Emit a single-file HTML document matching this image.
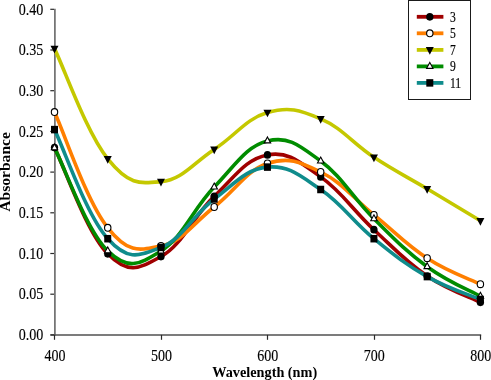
<!DOCTYPE html>
<html><head><meta charset="utf-8"><style>
html,body{margin:0;padding:0;background:#fff;}
body{width:491px;height:380px;overflow:hidden;}
svg{display:block;will-change:transform;filter:blur(0.3px);}
text{font-family:"Liberation Serif",serif;fill:#000;}
</style></head><body>
<svg width="491" height="380" viewBox="0 0 491 380">
<rect width="491" height="380" fill="#fff"/>

<g fill="none">
<path d="M54.9,8.8 V335.6" stroke="#666" stroke-width="1.6"/>
<path d="M50.5,334.9 H481.2" stroke="#505050" stroke-width="1.5"/>
</g>
<g stroke="#2a2a2a" stroke-width="1.2" fill="none">
<path d="M50.3,334.90 H54"/>
<path d="M50.3,294.20 H54"/>
<path d="M50.3,253.50 H54"/>
<path d="M50.3,212.80 H54"/>
<path d="M50.3,172.10 H54"/>
<path d="M50.3,131.40 H54"/>
<path d="M50.3,90.70 H54"/>
<path d="M50.3,50.00 H54"/>
<path d="M50.3,9.30 H54"/>
<path d="M54.50,334.9 V339.8"/>
<path d="M161.50,334.9 V339.8"/>
<path d="M267.50,334.9 V339.8"/>
<path d="M374.50,334.9 V339.8"/>
<path d="M480.50,334.9 V339.8"/>
</g>
<g font-size="14.60" text-anchor="end" stroke="#000" stroke-width="0.12">
<text transform="translate(43.4,340.10) scale(0.965,1.100)">0.00</text>
<text transform="translate(43.4,299.40) scale(0.965,1.100)">0.05</text>
<text transform="translate(43.4,258.70) scale(0.965,1.100)">0.10</text>
<text transform="translate(43.4,218.00) scale(0.965,1.100)">0.15</text>
<text transform="translate(43.4,177.30) scale(0.965,1.100)">0.20</text>
<text transform="translate(43.4,136.60) scale(0.965,1.100)">0.25</text>
<text transform="translate(43.4,95.90) scale(0.965,1.100)">0.30</text>
<text transform="translate(43.4,55.20) scale(0.965,1.100)">0.35</text>
<text transform="translate(43.4,14.50) scale(0.965,1.100)">0.40</text>
</g>
<g font-size="14.60" text-anchor="middle" stroke="#000" stroke-width="0.12">
<text transform="translate(54.90,361.3) scale(0.96,1.100)">400</text>
<text transform="translate(161.38,361.3) scale(0.96,1.100)">500</text>
<text transform="translate(267.85,361.3) scale(0.96,1.100)">600</text>
<text transform="translate(374.32,361.3) scale(0.96,1.100)">700</text>
<text transform="translate(480.80,361.3) scale(0.96,1.100)">800</text>
</g>
<text transform="translate(264.7,377) scale(0.984,1.07)" font-size="14.5" font-weight="bold" text-anchor="middle">Wavelength (nm)</text>
<text transform="translate(9.7,171.9) scale(1,1.074) rotate(-90)" font-size="14.5" font-weight="bold" text-anchor="middle">Absorbance</text>
<path d="M54.50,147.60 C65.15,168.84 86.44,232.00 107.74,253.80 C129.03,275.60 139.68,268.08 160.97,256.60 C182.27,245.12 192.92,216.74 214.21,196.40 C235.51,176.06 246.15,158.80 267.45,154.90 C288.75,151.00 299.39,161.94 320.69,176.90 C341.98,191.86 352.63,209.86 373.93,229.70 C395.22,249.54 405.87,261.58 427.16,276.10 C448.46,290.62 469.75,297.06 480.40,302.30" fill="none" stroke="#a00000" stroke-width="3.60" stroke-linecap="round" stroke-linejoin="round"/>
<path d="M54.50,112.10 C65.15,135.24 86.44,201.02 107.74,227.80 C129.03,254.58 139.68,250.16 160.97,246.00 C182.27,241.84 192.92,223.50 214.21,207.00 C235.51,190.50 246.15,170.50 267.45,163.50 C288.75,156.50 299.39,161.72 320.69,172.00 C341.98,182.28 352.63,197.66 373.93,214.90 C395.22,232.14 405.87,244.34 427.16,258.20 C448.46,272.06 469.75,279.00 480.40,284.20" fill="none" stroke="#ff7f00" stroke-width="3.60" stroke-linecap="round" stroke-linejoin="round"/>
<path d="M54.50,48.65 C65.15,70.69 86.44,132.24 107.74,158.85 C129.03,185.46 139.68,183.59 160.97,181.70 C182.27,179.81 192.92,163.24 214.21,149.40 C235.51,135.56 246.15,118.61 267.45,112.50 C288.75,106.39 299.39,109.89 320.69,118.85 C341.98,127.81 352.63,143.30 373.93,157.30 C395.22,171.30 405.87,176.15 427.16,188.85 C448.46,201.55 469.75,214.41 480.40,220.80" fill="none" stroke="#c4c800" stroke-width="3.60" stroke-linecap="round" stroke-linejoin="round"/>
<path d="M54.50,147.85 C65.15,168.46 86.44,230.27 107.74,250.90 C129.03,271.53 139.68,263.77 160.97,251.00 C182.27,238.23 192.92,209.06 214.21,187.05 C235.51,165.04 246.15,146.16 267.45,140.95 C288.75,135.74 299.39,145.44 320.69,161.00 C341.98,176.56 352.63,197.61 373.93,218.75 C395.22,239.89 405.87,251.19 427.16,266.70 C448.46,282.21 469.75,290.38 480.40,296.30" fill="none" stroke="#008c00" stroke-width="3.60" stroke-linecap="round" stroke-linejoin="round"/>
<path d="M54.50,129.60 C65.15,151.42 86.44,215.14 107.74,238.70 C129.03,262.26 139.68,255.34 160.97,247.40 C182.27,239.46 192.92,215.06 214.21,199.00 C235.51,182.94 246.15,169.00 267.45,167.10 C288.75,165.20 299.39,175.18 320.69,189.50 C341.98,203.82 352.63,221.28 373.93,238.70 C395.22,256.12 405.87,264.44 427.16,276.60 C448.46,288.76 469.75,294.92 480.40,299.50" fill="none" stroke="#0f8c8c" stroke-width="3.60" stroke-linecap="round" stroke-linejoin="round"/>
<ellipse cx="54.50" cy="147.60" rx="3.65" ry="3.85" fill="#000"/>
<ellipse cx="107.74" cy="253.80" rx="3.65" ry="3.85" fill="#000"/>
<ellipse cx="160.97" cy="256.60" rx="3.65" ry="3.85" fill="#000"/>
<ellipse cx="214.21" cy="196.40" rx="3.65" ry="3.85" fill="#000"/>
<ellipse cx="267.45" cy="154.90" rx="3.65" ry="3.85" fill="#000"/>
<ellipse cx="320.69" cy="176.90" rx="3.65" ry="3.85" fill="#000"/>
<ellipse cx="373.93" cy="229.70" rx="3.65" ry="3.85" fill="#000"/>
<ellipse cx="427.16" cy="276.10" rx="3.65" ry="3.85" fill="#000"/>
<ellipse cx="480.40" cy="302.30" rx="3.65" ry="3.85" fill="#000"/>
<ellipse cx="54.50" cy="112.10" rx="3.2" ry="3.45" fill="#fff" stroke="#000" stroke-width="1.1"/>
<ellipse cx="107.74" cy="227.80" rx="3.2" ry="3.45" fill="#fff" stroke="#000" stroke-width="1.1"/>
<ellipse cx="160.97" cy="246.00" rx="3.2" ry="3.45" fill="#fff" stroke="#000" stroke-width="1.1"/>
<ellipse cx="214.21" cy="207.00" rx="3.2" ry="3.45" fill="#fff" stroke="#000" stroke-width="1.1"/>
<ellipse cx="267.45" cy="163.50" rx="3.2" ry="3.45" fill="#fff" stroke="#000" stroke-width="1.1"/>
<ellipse cx="320.69" cy="172.00" rx="3.2" ry="3.45" fill="#fff" stroke="#000" stroke-width="1.1"/>
<ellipse cx="373.93" cy="214.90" rx="3.2" ry="3.45" fill="#fff" stroke="#000" stroke-width="1.1"/>
<ellipse cx="427.16" cy="258.20" rx="3.2" ry="3.45" fill="#fff" stroke="#000" stroke-width="1.1"/>
<ellipse cx="480.40" cy="284.20" rx="3.2" ry="3.45" fill="#fff" stroke="#000" stroke-width="1.1"/>
<path d="M50.50,45.80 L58.50,45.80 L54.50,53.50 Z" fill="#000"/>
<path d="M103.74,156.00 L111.74,156.00 L107.74,163.70 Z" fill="#000"/>
<path d="M156.97,178.85 L164.97,178.85 L160.97,186.55 Z" fill="#000"/>
<path d="M210.21,146.55 L218.21,146.55 L214.21,154.25 Z" fill="#000"/>
<path d="M263.45,109.65 L271.45,109.65 L267.45,117.35 Z" fill="#000"/>
<path d="M316.69,116.00 L324.69,116.00 L320.69,123.70 Z" fill="#000"/>
<path d="M369.93,154.45 L377.93,154.45 L373.93,162.15 Z" fill="#000"/>
<path d="M423.16,186.00 L431.16,186.00 L427.16,193.70 Z" fill="#000"/>
<path d="M476.40,217.95 L484.40,217.95 L480.40,225.65 Z" fill="#000"/>
<path d="M54.50,143.90 L57.70,149.80 L51.30,149.80 Z" fill="#fff" stroke="#000" stroke-width="1.1" stroke-linejoin="miter"/>
<path d="M107.74,246.95 L110.94,252.85 L104.54,252.85 Z" fill="#fff" stroke="#000" stroke-width="1.1" stroke-linejoin="miter"/>
<path d="M160.97,247.05 L164.17,252.95 L157.78,252.95 Z" fill="#fff" stroke="#000" stroke-width="1.1" stroke-linejoin="miter"/>
<path d="M214.21,183.10 L217.41,189.00 L211.01,189.00 Z" fill="#fff" stroke="#000" stroke-width="1.1" stroke-linejoin="miter"/>
<path d="M267.45,137.00 L270.65,142.90 L264.25,142.90 Z" fill="#fff" stroke="#000" stroke-width="1.1" stroke-linejoin="miter"/>
<path d="M320.69,157.05 L323.89,162.95 L317.49,162.95 Z" fill="#fff" stroke="#000" stroke-width="1.1" stroke-linejoin="miter"/>
<path d="M373.93,214.80 L377.12,220.70 L370.73,220.70 Z" fill="#fff" stroke="#000" stroke-width="1.1" stroke-linejoin="miter"/>
<path d="M427.16,262.75 L430.36,268.65 L423.96,268.65 Z" fill="#fff" stroke="#000" stroke-width="1.1" stroke-linejoin="miter"/>
<path d="M480.40,292.35 L483.60,298.25 L477.20,298.25 Z" fill="#fff" stroke="#000" stroke-width="1.1" stroke-linejoin="miter"/>
<rect x="51.00" y="125.85" width="7.00" height="7.50" fill="#000"/>
<rect x="104.24" y="234.95" width="7.00" height="7.50" fill="#000"/>
<rect x="157.47" y="243.65" width="7.00" height="7.50" fill="#000"/>
<rect x="210.71" y="195.25" width="7.00" height="7.50" fill="#000"/>
<rect x="263.95" y="163.35" width="7.00" height="7.50" fill="#000"/>
<rect x="317.19" y="185.75" width="7.00" height="7.50" fill="#000"/>
<rect x="370.43" y="234.95" width="7.00" height="7.50" fill="#000"/>
<rect x="423.66" y="272.85" width="7.00" height="7.50" fill="#000"/>
<rect x="476.90" y="295.75" width="7.00" height="7.50" fill="#000"/>
<rect x="408.5" y="0.5" width="62" height="99" fill="#fff" stroke="#1a1a1a" stroke-width="1"/>
<path d="M416.8,16.80 H443.4" stroke="#a00000" stroke-width="3.8"/>
<ellipse cx="429.80" cy="16.80" rx="3.65" ry="3.85" fill="#000"/>
<text transform="translate(449.9,21.80) scale(0.93,1.12)" font-size="12.5" stroke="#000" stroke-width="0.15">3</text>
<path d="M416.8,33.30 H443.4" stroke="#ff7f00" stroke-width="3.8"/>
<ellipse cx="429.80" cy="33.30" rx="3.2" ry="3.45" fill="#fff" stroke="#000" stroke-width="1.1"/>
<text transform="translate(449.9,38.30) scale(0.93,1.12)" font-size="12.5" stroke="#000" stroke-width="0.15">5</text>
<path d="M416.8,49.90 H443.4" stroke="#c4c800" stroke-width="3.8"/>
<path d="M425.80,47.05 L433.80,47.05 L429.80,54.75 Z" fill="#000"/>
<text transform="translate(449.9,54.90) scale(0.93,1.12)" font-size="12.5" stroke="#000" stroke-width="0.15">7</text>
<path d="M416.8,66.40 H443.4" stroke="#008c00" stroke-width="3.8"/>
<path d="M429.80,62.45 L433.00,68.35 L426.60,68.35 Z" fill="#fff" stroke="#000" stroke-width="1.1" stroke-linejoin="miter"/>
<text transform="translate(449.9,71.40) scale(0.93,1.12)" font-size="12.5" stroke="#000" stroke-width="0.15">9</text>
<path d="M416.8,82.90 H443.4" stroke="#0f8c8c" stroke-width="3.8"/>
<rect x="426.30" y="79.15" width="7.00" height="7.50" fill="#000"/>
<text transform="translate(449.9,87.90) scale(0.93,1.12)" font-size="12.5" stroke="#000" stroke-width="0.15">11</text>
</svg>
</body></html>
